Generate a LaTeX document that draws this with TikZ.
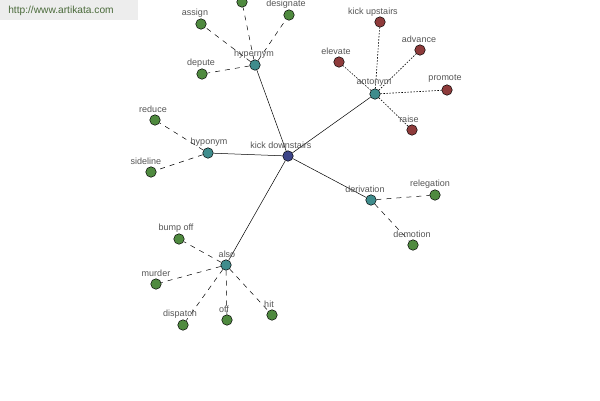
\documentclass[tikz,border=0pt]{standalone}
\usepackage{fontspec}
\setmainfont{Liberation Sans}
\usetikzlibrary{backgrounds}
\definecolor{leafg}{HTML}{4F8A3F}
\definecolor{leafr}{HTML}{8E3B3B}
\definecolor{hubc}{HTML}{3F8C8C}
\definecolor{ctrc}{HTML}{3C4488}
\definecolor{labc}{HTML}{555555}
\definecolor{wmtext}{HTML}{4A6A3A}
\tikzset{
  dot/.style={circle,draw=black,line width=0.5pt,inner sep=0pt,minimum size=10.5pt},
  leafgreen/.style={dot,fill=leafg},
  leafred/.style={dot,fill=leafr},
  hub/.style={dot,fill=hubc},
  ctr/.style={dot,fill=ctrc},
  lab/.style={text=labc,font=\fontsize{9}{10}\selectfont,inner sep=0pt},
  solidedge/.style={draw=black,line width=0.5pt},
  dashedge/.style={draw=black,line width=0.5pt,dash pattern=on 5pt off 5pt},
  dotedge/.style={draw=black,line width=0.6pt,dash pattern=on 1.5pt off 1.5pt},
}
\begin{document}
\begin{tikzpicture}[x=1pt,y=-1pt]
\useasboundingbox (0,0) rectangle (600,400);
% watermark
\node[fill=black!7,minimum width=138pt,minimum height=20pt,anchor=north west,inner sep=0pt] (wm) at (0,0) {};
\node[text=wmtext,font=\fontsize{10.2}{12}\selectfont,inner sep=0pt] (wmt) at (61,11) {http://www.artikata.com};
% nodes
\node[ctr] (kd) at (288,156) {};
\node[lab] (kdl) at (281,145) {kick downstairs};
\node[hub] (hyper) at (255,65) {};
\node[lab] (hyperl) at (254,54) {hypernym};
\node[leafgreen] (assign) at (201,24) {};
\node[lab] (assignl) at (195,13) {assign};
\node[leafgreen] (topn) at (242,2) {};
\node[leafgreen] (design) at (289,15) {};
\node[lab] (designl) at (286,4) {designate};
\node[leafgreen] (depute) at (202,74) {};
\node[lab] (deputel) at (201,63) {depute};
\node[hub] (ant) at (375,94) {};
\node[lab] (antl) at (374,83) {antonym};
\node[leafred] (kup) at (380,22) {};
\node[lab] (kupl) at (373,12) {kick upstairs};
\node[leafred] (adv) at (420,50) {};
\node[lab] (advl) at (419,39) {advance};
\node[leafred] (elev) at (339,62) {};
\node[lab] (elevl) at (336,51) {elevate};
\node[leafred] (prom) at (447,90) {};
\node[lab] (proml) at (445,79) {promote};
\node[leafred] (raise) at (412,130) {};
\node[lab] (raisel) at (409,119) {raise};
\node[hub] (hypo) at (208,153) {};
\node[lab] (hypol) at (209,142) {hyponym};
\node[leafgreen] (reduce) at (155,120) {};
\node[lab] (reducel) at (153,109) {reduce};
\node[leafgreen] (side) at (151,172) {};
\node[lab] (sidel) at (146,161) {sideline};
\node[hub] (deriv) at (371,200) {};
\node[lab] (derivl) at (365,189) {derivation};
\node[leafgreen] (releg) at (435,195) {};
\node[lab] (relegl) at (430,184) {relegation};
\node[leafgreen] (demot) at (413,245) {};
\node[lab] (demotl) at (412,234) {demotion};
\node[hub] (also) at (226,265) {};
\node[lab] (alsol) at (227,254) {also};
\node[leafgreen] (bump) at (179,239) {};
\node[lab] (bumpl) at (176,228) {bump off};
\node[leafgreen] (murd) at (156,284) {};
\node[lab] (murdl) at (156,273) {murder};
\node[leafgreen] (disp) at (183,325) {};
\node[lab] (displ) at (180,314) {dispatch};
\node[leafgreen] (off) at (227,320) {};
\node[lab] (offl) at (224,309) {off};
\node[leafgreen] (hit) at (272,315) {};
\node[lab] (hitl) at (269,304) {hit};
% edges
\begin{scope}[on background layer]
\path[solidedge] (kd) -- (hyper);
\path[solidedge] (kd) -- (ant);
\path[solidedge] (kd) -- (hypo);
\path[solidedge] (kd) -- (deriv);
\path[solidedge] (kd) -- (also);
\path[dashedge] (hyper) -- (assign);
\path[dashedge] (hyper) -- (topn);
\path[dashedge] (hyper) -- (design);
\path[dashedge] (hyper) -- (depute);
\path[dotedge] (ant) -- (kup);
\path[dotedge] (ant) -- (adv);
\path[dotedge] (ant) -- (elev);
\path[dotedge] (ant) -- (prom);
\path[dotedge] (ant) -- (raise);
\path[dashedge] (hypo) -- (reduce);
\path[dashedge] (hypo) -- (side);
\path[dashedge] (deriv) -- (releg);
\path[dashedge] (deriv) -- (demot);
\path[dashedge] (also) -- (bump);
\path[dashedge] (also) -- (murd);
\path[dashedge] (also) -- (disp);
\path[dashedge] (also) -- (off);
\path[dashedge] (also) -- (hit);
\end{scope}
\end{tikzpicture}
\end{document}
